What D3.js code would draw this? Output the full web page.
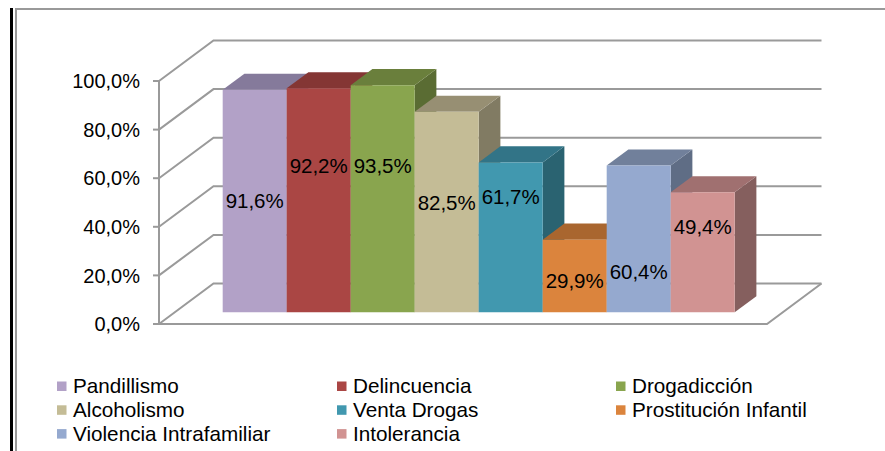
<!DOCTYPE html>
<html>
<head>
<meta charset="utf-8">
<script src="https://cdn.jsdelivr.net/npm/d3@7"></script>
<style>
  html, body { margin: 0; padding: 0; background: #fff; }
  svg { display: block; }
  text { font-family: "Liberation Sans", Arial, sans-serif; }
</style>
</head>
<body>
<svg id="chart" width="885" height="451"></svg>
<script>
// ---- data ----
const categories = ["Pandillismo", "Delincuencia", "Drogadicción", "Alcoholismo",
                    "Venta Drogas", "Prostitución Infantil", "Violencia Intrafamiliar", "Intolerancia"];
const values = [91.6, 92.2, 93.5, 82.5, 61.7, 29.9, 60.4, 49.4];
const valueLabels = ["91,6%", "92,2%", "93,5%", "82,5%", "61,7%", "29,9%", "60,4%", "49,4%"];
const yTicks = [0, 20, 40, 60, 80, 100];
const yTickLabels = ["0,0%", "20,0%", "40,0%", "60,0%", "80,0%", "100,0%"];

// ---- styles / layout (not data) ----
const frontColors = ["#B2A1C7", "#AA4644", "#89A54E", "#C4BC96", "#4198AF", "#DB843D", "#95A9CF", "#D19392"];
const topColors   = ["#857A9B", "#843634", "#6A7F3C", "#978F73", "#327487", "#A9662F", "#71809B", "#A07070"];
const sideColors  = ["#6F6582", "#6E2D2B", "#5A6C33", "#817B63", "#2A6371", "#8F5628", "#5F6D85", "#855F5E"];
// vertical placement of each data label, in value units on the bar's front face
const labelLevels = [45.9, 60.3, 60.3, 45.1, 47.7, 13.1, 16.9, 35.2];

const svg = d3.select("#chart");
const gridColor = "#9a9a9a";

// frame
svg.append("rect").attr("x", 10).attr("y", 8).attr("width", 3).attr("height", 443).attr("fill", "#000");
svg.append("line").attr("x1", 16).attr("x2", 16).attr("y1", 9).attr("y2", 451)
  .attr("stroke", "#999").attr("stroke-width", 2);
svg.append("line").attr("x1", 15).attr("x2", 885).attr("y1", 9).attr("y2", 9)
  .attr("stroke", "#999").attr("stroke-width", 2);

// scales & projection
const floorLeft = 159, floorRight = 767;
const depthDx = 54.5, depthDy = 40.5;
const y = d3.scaleLinear().domain([0, 100]).range([324, 81]);
const xb = d3.scaleBand().domain(categories).range([floorLeft, floorRight])
  .paddingInner(0).paddingOuter(0.75);
const proj = (px, v, z) => [px + z * depthDx, y(v) - z * depthDy];
const z1 = 0.288, z2 = 0.686;

const g = svg.append("g");
const line = d3.line();

// gridlines: left wall diagonals + back wall horizontals
yTicks.forEach(t => {
  g.append("path")
    .attr("d", line([proj(floorLeft, t, 0), proj(floorLeft, t, 1), proj(floorRight, t, 1)]))
    .attr("fill", "none").attr("stroke", gridColor).attr("stroke-width", 2);
});
// floor
g.append("path")
  .attr("d", line([proj(floorLeft, 0, 0), proj(floorRight, 0, 0), proj(floorRight, 0, 1)]))
  .attr("fill", "none").attr("stroke", gridColor).attr("stroke-width", 2);
// vertical axis
g.append("line").attr("x1", floorLeft).attr("x2", floorLeft)
  .attr("y1", y(0)).attr("y2", y(100)).attr("stroke", gridColor).attr("stroke-width", 2);
// ticks + labels
yTicks.forEach((t, i) => {
  g.append("line").attr("x1", floorLeft - 6).attr("x2", floorLeft)
    .attr("y1", y(t)).attr("y2", y(t)).attr("stroke", gridColor).attr("stroke-width", 2);
  g.append("text").attr("x", 140).attr("y", y(t)).attr("dy", "0.36em")
    .attr("text-anchor", "end").attr("font-size", 20).attr("fill", "#000")
    .text(yTickLabels[i]);
});

// bars (left to right so right bars' fronts cover left bars' sides)
const poly = pts => "M" + pts.map(p => p.join(",")).join("L") + "Z";
categories.forEach((c, i) => {
  const v = values[i];
  const xl = xb(c), xr = xl + xb.bandwidth();
  const bg = g.append("g");
  bg.append("path").attr("d", poly([proj(xr, 0, z1), proj(xr, 0, z2), proj(xr, v, z2), proj(xr, v, z1)]))
    .attr("fill", sideColors[i]);
  bg.append("path").attr("d", poly([proj(xl, v, z1), proj(xr, v, z1), proj(xr, v, z2), proj(xl, v, z2)]))
    .attr("fill", topColors[i]);
  bg.append("path").attr("d", poly([proj(xl, 0, z1), proj(xr, 0, z1), proj(xr, v, z1), proj(xl, v, z1)]))
    .attr("fill", frontColors[i]);
});
// data labels
categories.forEach((c, i) => {
  const cx = xb(c) + xb.bandwidth() / 2;
  const p = proj(cx, labelLevels[i], z1);
  g.append("text").attr("x", p[0]).attr("y", p[1]).attr("dy", "0.36em")
    .attr("text-anchor", "middle").attr("font-size", 20.5).attr("fill", "#000")
    .text(valueLabels[i]);
});

// legend
const legendCols = [57, 337, 616];
const legendRows = [386, 409.8, 433.6];
categories.forEach((c, i) => {
  const col = i % 3, row = Math.floor(i / 3);
  const lx = legendCols[col], ly = legendRows[row];
  svg.append("rect").attr("x", lx).attr("y", ly - 4.5).attr("width", 9.5).attr("height", 9.5)
    .attr("fill", frontColors[i]);
  svg.append("text").attr("x", lx + 16).attr("y", ly).attr("dy", "0.36em")
    .attr("font-size", 20.7).attr("fill", "#000").text(c);
});
</script>
</body>
</html>
